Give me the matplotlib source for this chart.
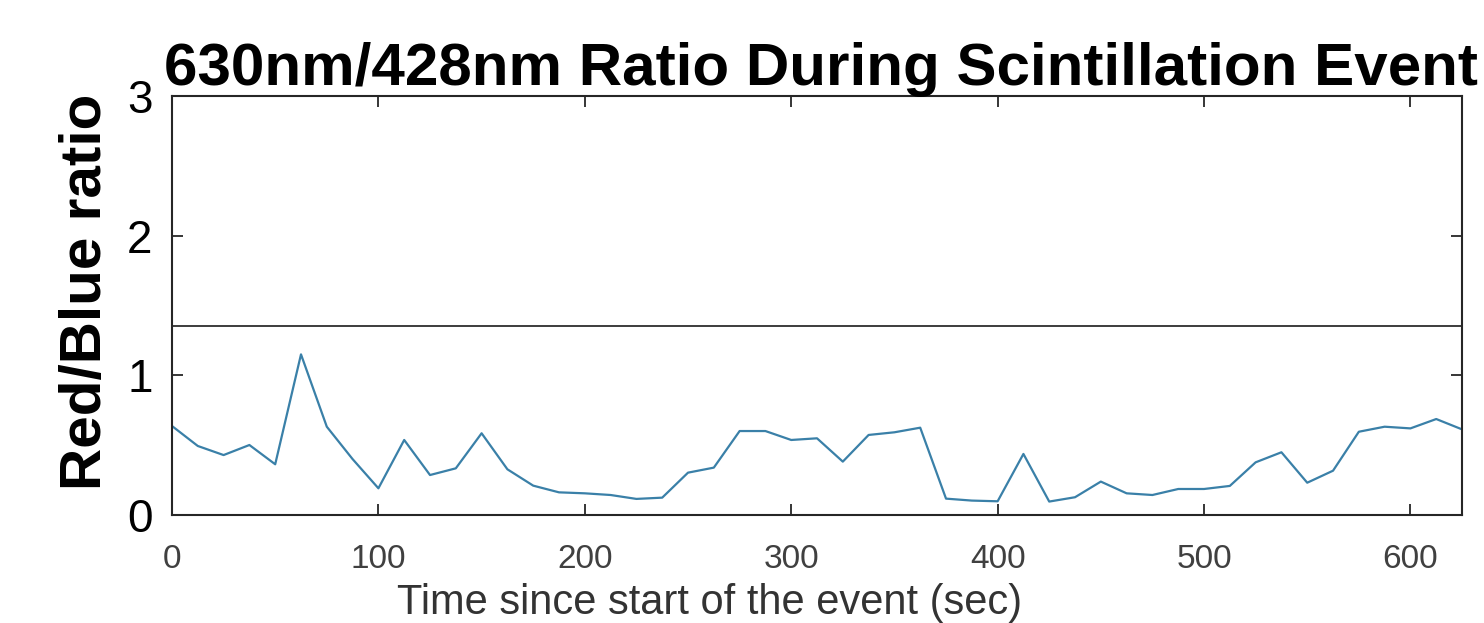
import matplotlib
matplotlib.use("Agg")
import matplotlib.pyplot as plt

plt.rcParams["font.family"] = ["Liberation Sans", "DejaVu Sans"]

# sample times (sec) and red/blue ratio
time_sec = [
    0, 12.5, 25, 37.5, 50, 62.5, 75, 87.5, 100, 112.5,
    125, 137.5, 150, 162.5, 175, 187.5, 200, 212.5, 225, 237.5,
    250, 262.5, 275, 287.5, 300, 312.5, 325, 337.5, 350, 362.5,
    375, 387.5, 400, 412.5, 425, 437.5, 450, 462.5, 475, 487.5,
    500, 512.5, 525, 537.5, 550, 562.5, 575, 587.5, 600, 612.5,
    625,
]
ratio = [
    0.637, 0.494, 0.429, 0.501, 0.363, 1.150, 0.632, 0.400, 0.191, 0.537,
    0.286, 0.334, 0.585, 0.327, 0.210, 0.162, 0.155, 0.143, 0.115, 0.124,
    0.303, 0.339, 0.601, 0.601, 0.537, 0.549, 0.382, 0.573, 0.592, 0.625,
    0.117, 0.103, 0.098, 0.437, 0.096, 0.127, 0.239, 0.155, 0.143, 0.186,
    0.186, 0.208, 0.377, 0.449, 0.231, 0.317, 0.596, 0.632, 0.620, 0.687,
    0.613,
]
threshold = 1.35

x_ticks = [0, 100, 200, 300, 400, 500, 600]
y_ticks = [0, 1, 2, 3]

fig = plt.figure(figsize=(14.84, 6.23), dpi=100)
ax = fig.add_axes([0.1159, 0.1734, 0.9852 - 0.1159, 0.8459 - 0.1734])

ax.plot(time_sec, ratio, color="#3a80a8", linewidth=1.6)
ax.axhline(threshold, color="#3c3c3c", linewidth=1.4)

ax.set_xlim(0, 625)
ax.set_ylim(0, 3)
ax.set_xticks(x_ticks)
ax.set_yticks(y_ticks)

for side in ax.spines.values():
    side.set_linewidth(1.5)
    side.set_color("#262626")

ax.tick_params(direction="in", length=8, width=1.3, top=True, right=True,
               color="#262626")
ax.tick_params(axis="x", labelsize=24, labelcolor="#404040", pad=21)
ax.tick_params(axis="y", labelsize=33, labelcolor="black", pad=14)

ax.set_xlabel("Time since start of the event (sec)", fontsize=30,
              color="#333333")
ax.xaxis.set_label_coords(0.417, -0.163)
ax.set_ylabel("Red/Blue ratio", fontsize=42, fontweight="bold")
ax.yaxis.set_label_coords(-0.046, 0.532)
ax.set_title("630nm/428nm Ratio During Scintillation Event", fontsize=43.3,
             fontweight="bold", pad=8)
ax.title.set_x(0.503)

fig.savefig("out.png", dpi=100, facecolor="white")
